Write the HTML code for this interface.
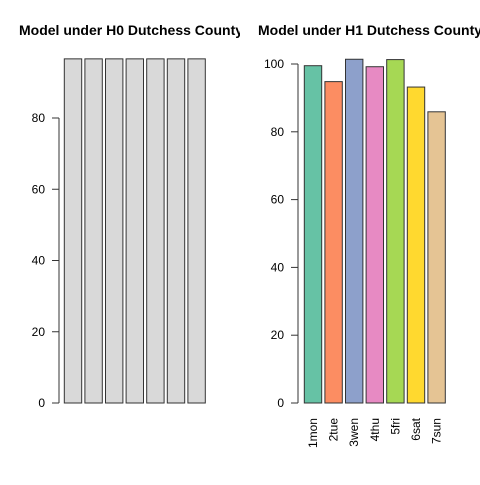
<!DOCTYPE html>
<html><head><meta charset="utf-8"><style>
body{margin:0;background:#fff}
svg text{font-family:"Liberation Sans",sans-serif}
</style></head><body>
<svg id="c" width="480" height="480" xmlns="http://www.w3.org/2000/svg">
<defs><clipPath id="cl"><rect x="0" y="0" width="240" height="480"/></clipPath></defs>
<text x="19" y="35" text-anchor="start" font-size="14" font-weight="bold" clip-path="url(#cl)">Model under H0 Dutchess County</text>
<text x="258" y="35" text-anchor="start" font-size="14" font-weight="bold">Model under H1 Dutchess County</text>
</svg>
<script>
const days=["1mon","2tue","3wen","4thu","5fri","6sat","7sun"];
const h0Values=[96.6,96.6,96.6,96.6,96.6,96.6,96.6];
const h1Values=[99.5,94.8,101.4,99.2,101.3,93.2,85.9];
const leftTicks=[0,20,40,60,80];
const rightTicks=[0,20,40,60,80,100];
const colors=["#66C2A5","#FC8D62","#8DA0CB","#E78AC3","#A6D854","#FFD92F","#E5C494"];
const svg=document.getElementById('c');
const NS="http://www.w3.org/2000/svg";
function mk(t,a){const e=document.createElementNS(NS,t);for(const k in a)e.setAttribute(k,a[k]);svg.appendChild(e);return e;}
function panel(vals,ticks,x0,axisX,yScale,fill,labels,pfx){
  const yl=yScale(ticks[0]),yh=yScale(ticks[ticks.length-1]);
  const ax=mk('line',{x1:axisX,x2:axisX,y1:yl,y2:yh,stroke:'#333'});
  
  
  ticks.forEach(t=>{
    const y=yScale(t);
    const tl=mk('line',{x1:axisX-7,x2:axisX,y1:y,y2:y,stroke:'#333'});
    
    
    const tx=mk('text',{x:axisX-14,y:y+4,'text-anchor':'end','font-size':12});
    tx.textContent=t;
    
    
  });
  vals.forEach((v,i)=>{
    const x=x0+i*20.6,y=yScale(v);
    const r=mk('rect',{x:x,y:y,width:17.4,height:yScale(0)-y,fill:fill(i),stroke:'#333','stroke-width':1});
    
    
    if(labels){
      const cx=x+8.7+4,cy=418;
      const t=mk('text',{x:cx,y:cy,'text-anchor':'end','font-size':12,transform:`rotate(-90 ${cx} ${cy})`});
      t.textContent=days[i];
      
      
    }
  });
}
panel(h0Values,leftTicks,64.3,59,v=>403-v*3.5625,()=>'#D9D9D9',false,'h0');
panel(h1Values,rightTicks,304.3,298,v=>403-v*3.39,i=>colors[i],true,'h1');
</script>
</body></html>
